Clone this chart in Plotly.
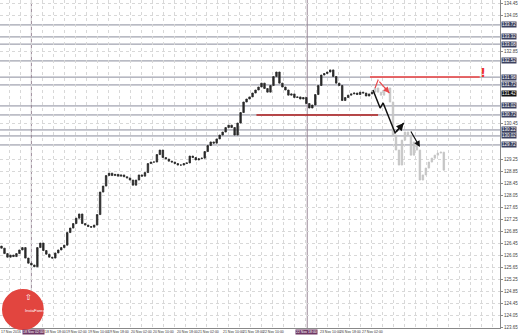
import plotly.graph_objects as go

# ---------------- data ----------------
hist_close = [126.28, 126.10, 125.98, 126.05, 126.00, 126.10, 126.22, 126.30, 125.95, 125.78,
              125.72, 125.66, 126.30, 126.45, 126.20, 126.08, 125.98, 125.95, 126.12, 126.22,
              126.30, 126.38, 126.80, 126.95, 127.10, 127.28, 127.42, 127.10, 127.05, 127.00,
              126.98, 127.05, 127.40, 128.15, 128.35, 128.70, 128.78, 128.70, 128.74, 128.68,
              128.72, 128.66, 128.62, 128.55, 128.38, 128.55, 128.72, 128.68, 128.80, 129.10,
              129.15, 129.15, 129.40, 129.55, 129.30, 129.25, 129.18, 129.15, 129.10, 129.05,
              129.05, 129.10, 129.12, 129.35, 129.30, 129.22, 129.26, 129.28, 129.50, 129.70,
              129.82, 129.78, 129.92, 130.05, 130.15, 130.30, 130.38, 130.30, 130.05, 130.45,
              130.80, 131.15, 131.25, 131.32, 131.45, 131.55, 131.65, 131.78, 131.60, 131.48,
              131.70, 132.00, 132.15, 131.78, 131.65, 131.55, 131.38, 131.42, 131.30, 131.32,
              131.25, 131.30, 131.10, 130.95, 131.05, 131.40, 131.70, 132.05, 132.10, 132.15,
              132.22, 132.00, 131.78, 131.70, 131.20, 131.30, 131.38, 131.42, 131.45, 131.40,
              131.48, 131.45, 131.35, 131.42, 131.48]
hist_first_open = 126.35

future_close = [131.62, 131.48, 131.38, 131.55, 131.62, 131.15, 130.05, 129.55, 129.05, 129.88,
                130.15, 130.05, 129.38, 129.82, 129.55, 128.55, 128.72, 128.95, 129.15, 129.28,
                129.38, 129.45, 129.48, 128.88]

levels = [133.72, 133.32, 133.08, 132.52, 131.98, 131.72, 131.02, 130.72, 130.22, 130.02, 129.72]
current_price = 131.42

y_ticks = [123.65, 124.05, 124.45, 124.85, 125.25, 125.65, 126.05, 126.45, 126.85, 127.25,
           127.65, 128.05, 128.45, 128.85, 129.25, 129.65, 130.05, 130.45, 130.85, 131.25,
           131.65, 132.05, 132.45, 132.85, 133.25, 133.65, 134.05, 134.45]

x_label_pos = [-0.4, 10.8, 18.0, 25.0, 32.3, 39.3, 46.7, 54.3, 62.3, 69.3, 77.7, 84.3, 91.0, 102.0, 110.0, 116.7, 124.3]
x_label_txt = ["17 Nov 2016", "18 Nov 02:00", "18 Nov 18:00", "19 Nov 02:00", "19 Nov 10:00",
               "19 Nov 18:00", "20 Nov 02:00", "20 Nov 10:00", "20 Nov 18:00", "21 Nov 02:00",
               "21 Nov 10:00", "21 Nov 18:00", "22 Nov 10:00", "22 Nov 18:00", "23 Nov 10:00",
               "26 Nov 18:00", "27 Nov 02:00"]
x_label_highlight = [1, 13]
vlines_x = [10.0, 102.3]

black_path_x = [124.3, 126.7, 127.7, 131.7, 134.6]
black_path_y = [131.55, 130.95, 131.12, 130.12, 130.45]
black_dash = [(136.7, 130.22), (140.0, 129.65)]
red_dash_x = [125.0, 126.0, 129.8]
red_dash_y = [131.62, 131.88, 131.45]
red_line = (123.3, 160.0, 131.98)
darkred_line = (85.3, 126.0, 130.72)

# ---------------- figure ----------------
hist_x = list(range(len(hist_close)))
hist_open = [hist_first_open] + hist_close[:-1]
hist_high = [max(o, c) for o, c in zip(hist_open, hist_close)]
hist_low = [min(o, c) for o, c in zip(hist_open, hist_close)]

fut_x = list(range(len(hist_close), len(hist_close) + len(future_close)))
fut_open = [hist_close[-1]] + future_close[:-1]
fut_high = [max(o, c) for o, c in zip(fut_open, future_close)]
fut_low = [min(o, c) for o, c in zip(fut_open, future_close)]

fig = go.Figure()
fig.add_trace(go.Candlestick(x=hist_x, open=hist_open, high=hist_high, low=hist_low, close=hist_close,
                             increasing=dict(line=dict(color="#2a2a2a", width=0.8), fillcolor="#2a2a2a"),
                             decreasing=dict(line=dict(color="#2a2a2a", width=0.8), fillcolor="#2a2a2a"),
                             whiskerwidth=0, showlegend=False, hoverinfo="skip"))
fig.add_trace(go.Candlestick(x=fut_x, open=fut_open, high=fut_high, low=fut_low, close=future_close,
                             increasing=dict(line=dict(color="#c4c4c4", width=0.8), fillcolor="#c4c4c4"),
                             decreasing=dict(line=dict(color="#c4c4c4", width=0.8), fillcolor="#c4c4c4"),
                             whiskerwidth=0, showlegend=False, hoverinfo="skip"))

# forecast arrows
fig.add_trace(go.Scatter(x=black_path_x, y=black_path_y, mode="lines",
                         line=dict(color="#111111", width=1.5), showlegend=False, hoverinfo="skip"))
fig.add_trace(go.Scatter(x=red_dash_x, y=red_dash_y, mode="lines",
                         line=dict(color="#e8474a", width=1.2, dash="dash"), showlegend=False, hoverinfo="skip"))

shapes = []
for lv in levels:
    shapes.append(dict(type="line", xref="paper", x0=0, x1=1, yref="y", y0=lv, y1=lv,
                       line=dict(color="#8a8c9c", width=1), layer="below"))
for vx in vlines_x:
    shapes.append(dict(type="line", xref="x", x0=vx, x1=vx, yref="paper", y0=0, y1=1,
                       line=dict(color="#9a8898", width=1), layer="below"))
shapes.append(dict(type="line", xref="x", x0=red_line[0], x1=red_line[1], y0=red_line[2], y1=red_line[2],
                   line=dict(color="#ee4444", width=1.5)))
shapes.append(dict(type="line", xref="x", x0=darkred_line[0], x1=darkred_line[1], y0=darkred_line[2], y1=darkred_line[2],
                   line=dict(color="#b01c1c", width=1.5)))
# logo badge
shapes.append(dict(type="circle", xref="paper", yref="paper", x0=3/502, x1=43/502,
                   y0=(328-329)/328, y1=(328-290)/328, fillcolor="#e2453f", line=dict(color="#e2453f", width=2)))

annotations = []
annotations.append(dict(x=black_dash[1][0], y=black_dash[1][1], ax=black_dash[0][0], ay=black_dash[0][1],
                        xref="x", yref="y", axref="x", ayref="y", showarrow=True, arrowhead=2,
                        arrowsize=1, arrowwidth=1.2, arrowcolor="#111111", text=""))
annotations.append(dict(x=black_path_x[-1], y=black_path_y[-1], ax=black_path_x[-2], ay=black_path_y[-2],
                        xref="x", yref="y", axref="x", ayref="y", showarrow=True, arrowhead=2,
                        arrowsize=1, arrowwidth=1.5, arrowcolor="#111111", text=""))
annotations.append(dict(x=red_dash_x[-1], y=red_dash_y[-1], ax=red_dash_x[-2], ay=red_dash_y[-2],
                        xref="x", yref="y", axref="x", ayref="y", showarrow=True, arrowhead=2,
                        arrowsize=1, arrowwidth=1.2, arrowcolor="#e8474a", text=""))
annotations.append(dict(x=161, y=132.15, xref="x", yref="y", text="<b>!</b>", showarrow=False,
                        font=dict(color="#ee3333", size=13, family="DejaVu Sans")))
for lv in levels:
    annotations.append(dict(x=1.0, y=lv, xref="paper", yref="y", xanchor="left", yanchor="middle",
                            text=f"{lv:.2f}", showarrow=False, bgcolor="#3d4260", xshift=1,
                            font=dict(color="white", size=4.5, family="Liberation Sans"), borderpad=0))
annotations.append(dict(x=1.0, y=current_price, xref="paper", yref="y", xanchor="left", yanchor="middle",
                        text=f"{current_price:.2f}", showarrow=False, bgcolor="#111111", xshift=1,
                        font=dict(color="white", size=4.5, family="Liberation Sans"), borderpad=0))
for i, (xp, t) in enumerate(zip(x_label_pos, x_label_txt)):
    hl = i in x_label_highlight
    annotations.append(dict(x=xp, y=0, xref="x", yref="paper", yanchor="top",
                            xanchor="left" if i == 0 else "center",
                            text=t, showarrow=False, yshift=-1,
                            bgcolor="#6e3763" if hl else "rgba(0,0,0,0)",
                            font=dict(color="white" if hl else "#333333", size=3.5, family="Liberation Sans"),
                            borderpad=0))
annotations.append(dict(x=23/502, y=(328-315)/328, xref="paper", yref="paper", text="InstaForex",
                        showarrow=False, font=dict(color="white", size=4.2, family="Liberation Sans")))
annotations.append(dict(x=23/502, y=(328-304)/328, xref="paper", yref="paper", text="⇧",
                        showarrow=False, font=dict(color="white", size=8, family="DejaVu Sans")))

marks = levels + [current_price]
tick_vis = [t for t in y_ticks if min(abs(t - m) for m in marks) > 0.17]

fig.update_layout(
    width=518, height=335,
    margin=dict(l=0, r=16, t=0, b=7),
    paper_bgcolor="white", plot_bgcolor="white",
    shapes=shapes, annotations=annotations,
    xaxis=dict(range=[-0.5, 166.8], rangeslider=dict(visible=False), showticklabels=False,
               showgrid=True, gridcolor="#d8d8d8", griddash="dot", gridwidth=1,
               tickmode="linear", tick0=2.7, dtick=3.67, zeroline=False,
               showline=True, linecolor="#888888", linewidth=1, mirror=False),
    yaxis=dict(range=[123.62, 134.55], side="right", tickvals=tick_vis,
               ticktext=[f"{v:.2f}" for v in tick_vis],
               tickfont=dict(size=4.5, color="#444444", family="Liberation Sans"),
               showgrid=True, gridcolor="#d8d8d8", griddash="dot", gridwidth=1,
               zeroline=False, showline=True, linecolor="#888888", linewidth=1,
               ticks="outside", ticklen=2, tickcolor="#888888"),
)

fig.write_html("out.html")
